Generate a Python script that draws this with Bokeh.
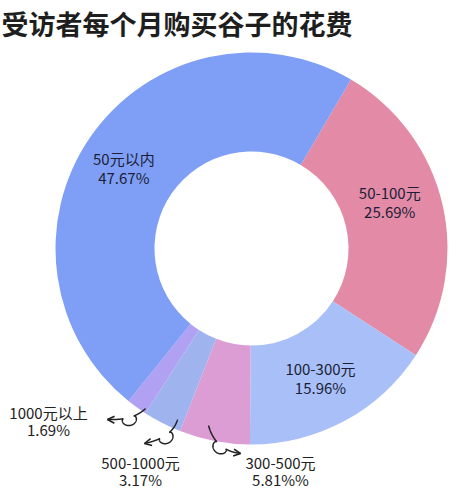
import numpy as np
from bokeh.plotting import figure
from bokeh.models import Range1d, Arrow, OpenHead
from bokeh.core.properties import value
from bokeh.embed import file_html
from bokeh.resources import INLINE

# ---- data ----
title_text = "受访者每个月购买谷子的花费"
categories = ["50-100元", "100-300元", "300-500元", "500-1000元", "1000元以上", "50元以内"]
percents = [25.69, 15.96, 5.81, 3.17, 1.69, 47.67]
pct_labels = ["25.69%", "15.96%", "5.81%%", "3.17%", "1.69%", "47.67%"]
colors = ["#e38aa7", "#a8bff7", "#dc9dd5", "#9fb4ef", "#b1a1f2", "#7f9ef5"]

# ---- layout ----
W, H = 450, 489
def fx(sx): return sx
def fy(sy): return H - sy

CX, CY = fx(251), fy(248)
R_OUT, R_IN = 196, 97
START_DEG = 30.5          # clockwise from top where first slice begins

FONT = value("Noto Sans CJK SC")

p = figure(width=W, height=H, output_backend="svg", toolbar_location=None,
           x_range=Range1d(0, W), y_range=Range1d(0, H), min_border=0)
p.axis.visible = False
p.grid.visible = False
p.outline_line_color = None
p.background_fill_color = "white"
p.border_fill_color = "white"

fr = np.array(percents) / sum(percents)
cum = np.concatenate([[0], np.cumsum(fr)[:-1]])
theta_s = START_DEG + 360 * cum
theta_e = theta_s + 360 * fr
theta_m = (theta_s + theta_e) / 2

p.annular_wedge(x=CX, y=CY, inner_radius=R_IN, outer_radius=R_OUT,
                start_angle=np.radians(90 - theta_s), end_angle=np.radians(90 - theta_e),
                direction="clock", fill_color=colors, line_color=None)

# inside labels (polar placement)
inside = {0: (-5.5, 146), 1: (0.3, 147), 5: (-2.4, 151)}
for i, (dth, r) in inside.items():
    th = np.radians(theta_m[i] + dth)
    x = CX + r * np.sin(th)
    y = CY + r * np.cos(th)
    p.text(x=[x], y=[y + 9.5], text=[categories[i]], text_font=FONT, text_font_size="15px",
           text_align="center", text_baseline="middle", text_color="#1b1e36")
    p.text(x=[x], y=[y - 9.5], text=[pct_labels[i]], text_font=FONT, text_font_size="15px",
           text_align="center", text_baseline="middle", text_color="#1b1e36")

# outside labels (screen positions of two-line centers)
outside = {4: (48, 420.5), 3: (140, 470.5), 2: (280, 470.5)}
for i, (sx, sy) in outside.items():
    p.text(x=[fx(sx)], y=[fy(sy - 8.5)], text=[categories[i]], text_font=FONT, text_font_size="15px",
           text_align="center", text_baseline="middle", text_color="#222222")
    p.text(x=[fx(sx)], y=[fy(sy + 8.5)], text=[pct_labels[i]], text_font=FONT, text_font_size="15px",
           text_align="center", text_baseline="middle", text_color="#222222")

# curly hand-drawn arrows
def curly(s, c, e, t0, w, R, side):
    s, c, e = (np.array(v, float) for v in (s, c, e))
    t = np.linspace(0, 1, 400)[:, None]
    B = (1 - t) ** 2 * s + 2 * (1 - t) * t * c + t ** 2 * e
    D = 2 * (1 - t) * (c - s) + 2 * t * (e - c)
    T = D / np.linalg.norm(D, axis=1, keepdims=True)
    N = np.stack([-T[:, 1], T[:, 0]], axis=1) * side
    u = np.clip((t[:, 0] - t0) / w, 0, 1)[:, None]
    P = B - T * R * np.sin(2 * np.pi * u) + N * R * (1 - np.cos(2 * np.pi * u))
    return P

arrows = [
    ((145, 408), (133, 420), (107, 419), 0.40, 0.26, 4.0, -1),
    ((177, 419), (172, 437), (144, 443), 0.42, 0.26, 4.0, -1),
    ((208, 425), (215, 450), (240, 453), 0.40, 0.26, 4.0, 1),
]
for s, c, e, t0, w, R, side in arrows:
    P = curly(s, c, e, t0, w, R, side)
    xs = [fx(v) for v in P[:, 0]]
    ys = [fy(v) for v in P[:, 1]]
    p.line(xs, ys, line_color="#222222", line_width=1.5)
    p.add_layout(Arrow(end=OpenHead(size=7, line_color="#222222", line_width=1.6),
                       x_start=xs[-6], y_start=ys[-6], x_end=xs[-1], y_end=ys[-1],
                       line_color="#222222", line_width=1.5))

# title
p.text(x=[fx(1)], y=[fy(3)], text=[title_text], text_font=FONT, text_font_size="27px",
       text_font_style="bold", text_align="left", text_baseline="top", text_color="#1e1e1e")

open("out.html", "w").write(file_html(p, INLINE))
